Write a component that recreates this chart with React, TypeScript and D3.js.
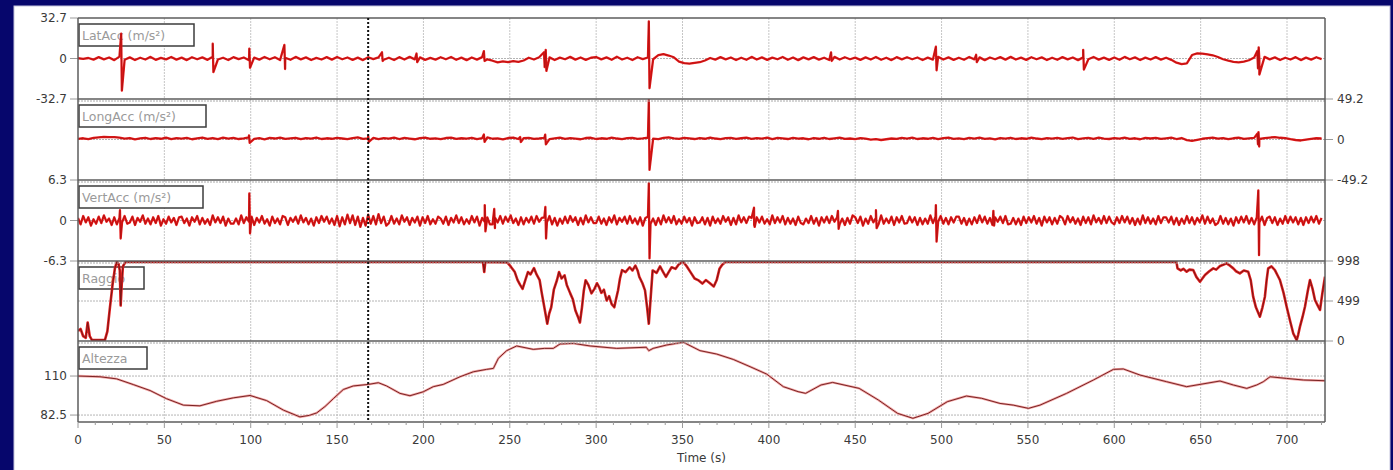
import React from 'react';
import * as d3 from 'd3';

// LatAcc, sampled every 3 s from 0 to 720 s
const latAcc = [
  0.2, -0.3, 0.4, -0.9, 1.1, -0.7, 0.8, -1.3, 1.5, -1.0,
  0.9, -1.2, 0.6, -0.8, 1.3, -1.1, 0.5, -0.7, 1.2, -0.9,
  0.7, -1.3, 1.0, -0.6, 0.9, -1.1, 1.4, -0.8, 0.6, -1.2,
  1.1, -0.5, 0.8, -1.4, 0.7, -0.9, 1.2, -0.6, 1.0, -1.3,
  0.6, -1.0, 1.3, -0.7, 0.9, -1.2, 0.5, -0.8, 1.1, -0.9,
  1.2, -0.6, 0.8, -1.1, 0.7, -1.3, 1.0, -0.5, 0.9, -1.0,
  0.6, -1.2, 1.1, -0.8, 1.3, -0.7, 0.9, -1.1, 0.5, -0.9,
  1.0, -0.6, 1.2, -1.0, 0.7, -1.3, 0.8, -0.9, 1.1, -0.7,
  -1.8, -3.2, -2.4, -3.0, -2.1, -2.8, -1.6, 0.6, -0.8, 1.0,
  -0.4, 0.9, -1.2, 0.7, -0.6, 1.3, -0.9, 0.8, -1.1, 0.6,
  1.2, -0.7, 0.9, -1.0, 1.4, -0.8, 0.6, -1.2, 1.0, -0.5,
  0.8, -0.6, 2.8, 3.6, 2.4, 1.0, -2.6, -3.8, -4.2, -3.5,
  -3.0, -1.6, 0.4, -0.9, 1.1, -0.7, 0.8, -1.2, 0.6, -1.0,
  1.3, -0.8, 0.9, -1.1, 0.7, -0.6, 1.2, -1.0, 0.8, -1.3,
  0.9, -0.7, 1.1, -0.9, 0.6, -1.2, 1.3, -0.8, 1.0, -0.6,
  0.7, -1.1, 0.9, -0.8, 1.2, -1.0, 0.6, -1.3, 1.1, -0.7,
  1.0, -0.6, 0.8, -1.2, 0.7, -0.9, 1.3, -0.8, 0.9, -1.1,
  0.6, -1.0, 1.2, -0.7, 0.9, -1.3, 0.8, -0.6, 1.1, -0.9,
  1.3, -0.8, 0.7, -1.1, 1.0, -0.6, 0.9, -1.2, 0.6, -1.0,
  1.1, -0.7, 0.8, -1.3, 0.9, -0.6, 1.2, -0.9, 0.7, -1.1,
  0.8, -1.0, 1.3, -0.6, 0.9, -1.2, 0.7, -0.8, 1.1, -0.9,
  0.6, -1.1, -3.4, -4.6, -4.0, 2.8, 4.2, 3.9, 3.4, 2.6,
  1.2, -0.6, -1.8, -2.8, -3.2, -2.6, -1.4, 0.8, -1.0, 1.3,
  -0.7, 0.9, -1.2, 0.6, -0.8, 1.1, -1.3, 0.7, -0.9, 1.0,
  -0.5,
];
// [time, high, low]
const latAccSpikes = [
  [25, 20, -26], [78, 12, -11], [99.2, 8, -7.5], [119.5, 11, -8.5], [176, 5, -2],
  [196, 4, -3], [235, 6, -2], [269.8, 5, -7], [270.8, 7, -10], [330.5, 30, -24],
  [436, 5, -2], [496.7, 9.5, -9.5], [520, 3, -3], [582, 7, -9], [682.8, 6, -8], [683.6, 9, -13],
];

// LongAcc, sampled every 3 s
const longAcc = [
  0.8, 1.5, 0.4, 1.9, 2.6, 3.2, 2.8, 3.0, 2.2, 1.0,
  1.8, 0.2, 1.4, 2.1, 0.6, 1.7, 0.9, 2.3, 0.5, 1.6,
  1.1, 2.0, 0.3, 1.5, 2.4, 0.7, 1.8, 0.4, 2.2, 1.0,
  1.9, 0.6, 1.3, 2.5, 0.8, 1.6, 0.2, 1.9, 1.2, 2.3,
  0.7, 1.4, 2.1, 0.5, 1.8, 1.0, 2.4, 0.6, 1.5, 0.9,
  2.0, 1.2, 0.4, 1.7, 2.6, 0.8, 1.3, 2.0, 0.5, 1.6,
  1.0, 2.2, 0.6, 1.9, 1.1, 0.3, 1.7, 2.4, 0.9, 1.4,
  0.5, 1.8, 2.3, 0.7, 1.5, 1.0, 2.1, 0.4, 1.6, 2.5,
  0.9, 1.3, 0.2, 1.8, 2.4, 0.6, 1.5, 2.0, 0.8, 1.2,
  1.9, 0.5, 1.4, 2.2, 0.7, 1.6, 1.1, 0.3, 1.8, 2.1,
  0.6, 1.5, 0.9, 2.3, 1.2, 0.4, 1.7, 2.0, 0.8, 1.4,
  2.2, 1.0, 0.5, 1.9, 2.6, 1.4, 0.7, 2.1, 1.3, 0.6,
  1.8, 0.9, 2.4, 1.2, 0.5, 1.7, 2.0, 0.8, 1.5, 2.3,
  0.7, 1.6, 1.1, 2.2, 0.4, 1.9, 1.3, 0.6, 2.0, 1.0,
  1.5, 0.3, 1.8, 0.9, 2.1, 0.6, 1.4, 2.3, 0.8, 1.2,
  0.4, 1.7, 1.0, -0.2, 0.5, -0.6, 0.3, 1.2, 0.7, 1.9,
  1.1, 2.2, 0.6, 1.5, 0.9, 2.0, 0.4, 1.6, 2.4, 0.8,
  1.3, 0.5, 1.9, 1.1, 2.2, 0.7, 1.4, 0.2, 1.8, 1.0,
  2.1, 0.6, 1.5, 0.9, 2.3, 1.2, 0.4, 1.7, 1.0, 2.0,
  0.8, 1.6, 2.4, 0.5, 1.3, 1.9, 0.7, 2.2, 1.1, 0.6,
  1.7, 1.0, 2.3, 0.8, 1.5, 0.3, 1.9, 1.2, 2.0, 0.7,
  1.4, 2.2, 0.6, 1.8, -0.8, -1.6, -0.4, 0.9, 1.6, 2.4,
  1.0, 1.8, 0.5, 1.5, 2.3, 0.8, 1.3, 1.9, 0.6, 1.7,
  2.4, 2.8, 2.1, 1.6, 0.4, -0.6, -1.2, -0.2, 0.8, 1.5,
  1.2,
];
const longAccSpikes = [
  [99, 5, -4], [168, 4, -3], [235, 6, -3], [256, 3, -3], [270.5, 6, -6],
  [330.5, 48, -37], [682.8, 7, -6], [683.5, 9, -8.5],
];

// VertAcc in tenths of m/s², sampled every 1.5 s
const vertAccTenths = [
  4, -6, 7, -3, 5, -8, 2, -5, 6, -4, 8, -2, 3, -7, 5, -6, 4, -3, 7, -5,
  -3, 6, -7, 4, -2, 8, -5, 3, -6, 5, -4, 7, -8, 2, -5, 6, -3, 4, -7, 5,
  6, -4, 3, -8, 5, -2, 7, -6, 4, -5, 2, -7, 8, -3, 5, -4, 6, -8, 3, -5,
  -5, 3, -6, 8, -4, 5, -2, 6, -7, 4, -3, 7, -5, 2, -8, 6, -4, 3, -6, 7,
  5, -7, 4, -2, 6, -5, 8, -3, 4, -6, 3, -8, 5, -4, 7, -2, 6, -5, 3, -7,
  7, -9, 5, -6, 9, -4, 8, -7, 6, -10, 4, -8, 9, -5, 7, -6, 10, -4, 6, -8,
  -4, 7, -5, 3, -6, 8, -2, 5, -7, 4, -3, 6, -8, 5, -4, 7, -6, 2, -5, 6,
  3, -5, 6, -7, 4, -3, 8, -4, 5, -6, 2, -5, 7, -3, 6, -8, 4, -2, 5, -6,
  -6, 4, -3, 7, -5, 6, -2, 8, -4, 3, -7, 5, -6, 4, -3, 6, -5, 7, -2, 4,
  5, -3, 7, -6, 4, -8, 3, -5, 6, -4, 7, -2, 5, -7, 4, -6, 8, -3, 5, -4,
  -4, 6, -5, 3, -7, 5, -3, 8, -6, 4, -2, 6, -5, 7, -4, 3, -6, 5, -8, 4,
  6, -5, 3, -7, 4, -6, 8, -3, 5, -4, 7, -6, 2, -5, 6, -3, 4, -8, 5, -4,
  -3, 5, -6, 4, -8, 6, -4, 3, -5, 7, -2, 5, -7, 4, -6, 8, -3, 5, -4, 6,
  4, -7, 5, -3, 6, -5, 2, -6, 8, -4, 5, -3, 7, -6, 4, -5, 3, -7, 6, -4,
  -6, 3, -4, 7, -5, 4, -8, 5, -3, 6, -4, 7, -2, 5, -6, 3, -7, 4, -5, 8,
  5, -4, 6, -8, 3, -5, 7, -3, 4, -6, 8, -5, 3, -4, 6, -7, 5, -3, 7, -5,
  -4, 6, -3, 5, -7, 4, -6, 3, -5, 8, -4, 6, -2, 7, -5, 4, -6, 5, -3, 6,
  6, -5, 4, -7, 3, -6, 5, -4, 8, -3, 6, -5, 4, -7, 5, -2, 6, -4, 7, -6,
  -5, 4, -6, 3, -7, 6, -4, 5, -3, 7, -5, 4, -8, 6, -3, 5, -6, 4, -5, 7,
  4, -6, 7, -3, 5, -5, 3, -7, 6, -4, 5, -6, 8, -3, 4, -5, 7, -4, 6, -3,
  -6, 5, -4, 7, -3, 6, -5, 4, -7, 3, -6, 8, -4, 5, -5, 3, -6, 7, -4, 5,
  5, -3, 6, -6, 4, -7, 3, -5, 7, -4, 5, -6, 4, -3, 8, -5, 6, -4, 3, -7,
  -4, 7, -5, 4, -6, 3, -8, 5, -4, 6, -3, 7, -5, 4, -6, 5, -3, 6, -7, 4,
  6, -4, 5, -7, 3, -5, 7, -4, 6, -3, 5, -6, 4, -7, 5, -4, 6, -3, 7, -5,
  4,
];
const vertAccSpikes = [
  [24.3, 1.6, -2.8], [99.2, 4.2, -2], [235.5, 2.4, -1.7], [241, 1.8, -1.2],
  [270.6, 2.1, -2.8], [330.5, 5.8, -5.9], [391.4, 2, -1], [440, 1.5, -1.3],
  [462, 1.6, -1.2], [496.7, 2.4, -3.3], [530, 1.5, -0.8], [683.4, 4.7, -5.4],
];

// Raggio: [time, value]
const raggio = [
  [0, 126], [1.5, 150], [3, 60], [4.5, 40], [5.6, 231], [6.8, 60], [8, 13], [12, 13], [15.6, 13],
  [17, 120], [18.5, 420], [20, 700], [21.4, 910], [22.5, 990], [23.5, 960], [24.2, 880], [24.7, 442],
  [25.3, 700], [26, 930], [27.4, 985],
  [234.5, 985], [235.2, 860], [235.8, 985],
  [248.5, 980], [250.5, 930], [252.9, 860], [254.5, 760], [256, 700], [257.4, 650], [259, 760],
  [260.5, 860], [262, 830], [264, 910], [265.5, 830], [267.3, 758], [268.5, 600], [270, 420],
  [271.7, 215], [272.8, 340], [274, 421], [275.5, 640], [277.3, 758], [278.5, 860], [280, 780],
  [281.7, 820], [283, 700], [285, 594], [286.5, 520], [288, 380], [289.5, 300], [290.6, 231],
  [291.8, 420], [292.8, 620], [293.9, 758], [295.5, 700], [297.3, 594], [299, 650], [300.5, 720],
  [301.7, 673], [303, 600], [304.5, 640], [306.1, 505], [307.5, 560], [309, 460], [310.5, 421],
  [311.5, 520], [312.7, 633], [313.8, 780], [315, 884], [317, 860], [319.4, 920], [321, 880],
  [322.7, 940], [324, 880], [325, 800], [326.8, 720], [328.3, 632], [329.5, 420], [330.5, 215],
  [331.5, 520], [332.7, 880], [335, 850], [337, 930], [338.8, 860], [340.4, 800], [342, 860],
  [343.7, 920], [346, 900], [348, 960], [350.4, 990], [352.5, 930], [354.9, 850], [357, 780],
  [359, 760], [361.5, 716], [363.5, 760], [365.9, 720], [368.1, 680], [369.8, 760], [371.4, 900],
  [373, 950], [374.8, 985],
  [636, 985], [636.6, 906], [638.5, 880], [640, 900], [641.9, 865], [643.5, 890], [645.7, 885],
  [647.5, 800], [649.6, 740], [651, 780], [652.5, 823], [655, 870], [657.3, 906], [659, 890],
  [661.2, 935], [663, 950], [665, 969], [667, 940], [668.9, 906], [670.5, 870], [672.7, 844],
  [675, 880], [677.5, 865], [679, 760], [680.4, 553], [682, 420], [684.3, 303], [685.8, 420],
  [687.2, 553], [688.2, 760], [689.1, 906], [691, 930], [693, 885], [694.5, 820], [695.9, 761],
  [698, 600], [699.8, 428], [701.8, 250], [703.6, 96], [705.6, 12], [706.5, 80], [707.5, 179],
  [709, 300], [710.4, 428], [712, 620], [713.3, 761], [714.8, 650], [716.2, 511], [717.6, 450],
  [719.1, 387], [720.5, 600], [722, 803],
];

// Altezza: [time, value]
const altezza = [
  [0, 110], [12.7, 109.5], [22.4, 108], [32, 104], [41.7, 99.8], [51.3, 94], [61, 89.5], [70.6, 89],
  [80.3, 92.2], [89.9, 94.6], [99.6, 96.3], [109.2, 92.7], [118.9, 86], [128.5, 81.2], [134, 82.3],
  [138.2, 84], [143, 88.5], [147.8, 94], [153.6, 100.5], [159.4, 103], [168.1, 104.1], [173.9, 105.3],
  [178.7, 103], [186.4, 97.8], [192.2, 96.1], [199.9, 98.9], [205.7, 102.5], [211.5, 104.1],
  [221.2, 109.5], [228.9, 113], [236.6, 114.7], [240.5, 115.4], [243.4, 122.5], [248.2, 127.9],
  [254, 131.2], [263.6, 128.8], [270, 129.5], [275.2, 129.5], [279.1, 132.6], [286.8, 133],
  [296.5, 131.2], [311.9, 129.5], [329, 130.3], [330.5, 127.9], [333, 129.5], [340.9, 131.9],
  [350.5, 133.8], [360.1, 127.9], [369.8, 125.5], [379.4, 121.7], [389.1, 116.6], [398.7, 111.4],
  [408.4, 102.5], [416.9, 99], [421.3, 97.8], [430.2, 103.7], [436.9, 105.5], [452.3, 101.3],
  [463.4, 93.1], [474.5, 83.7], [483.4, 80.2], [492.2, 83.7], [503.3, 91.9], [514.4, 95.9],
  [523.2, 94.3], [533.8, 90.7], [541.5, 89.5], [550.3, 87.2], [557, 89.5], [572.4, 97.8],
  [587.9, 107.2], [599.5, 114.7], [605.2, 115], [614.9, 110.7], [630.3, 106], [641.9, 102.5],
  [661.2, 106.5], [668.9, 103.7], [676.7, 101.3], [682.5, 103.7], [686.3, 106], [690.2, 109.5],
  [699.8, 108.3], [709.5, 107.2], [722, 106.7],
];

const timeTicks = [0, 50, 100, 150, 200, 250, 300, 350, 400, 450, 500, 550, 600, 650, 700];
const cursorTime = 168;

function withSpikes(values: number[], step: number, spikes: number[][]): [number, number][] {
  const pts: [number, number][] = values.map((v, i) => [i * step, v]);
  spikes.forEach(([t, hi, lo]) => {
    pts.push([t, hi], [t + 0.4, lo]);
  });
  return pts.sort((a, b) => a[0] - b[0]);
}

const W = 1393;
const H = 470;
const left = 78;
const right = 1325;
const tops = [18, 99, 180, 261, 341, 422];
const font = 'DejaVu Sans, Verdana, sans-serif';

const panels = [
  { title: 'LatAcc (m/s²)', boxW: 115, domain: [-32.7, 32.7], ticks: [32.7, 0, -32.7], grid: [0], side: 'left', data: withSpikes(latAcc, 3, latAccSpikes), kind: 'acc' },
  { title: 'LongAcc (m/s²)', boxW: 127, domain: [-49.2, 49.2], ticks: [49.2, 0, -49.2], grid: [0], side: 'right', data: withSpikes(longAcc, 3, longAccSpikes), kind: 'acc' },
  { title: 'VertAcc (m/s²)', boxW: 124, domain: [-6.3, 6.3], ticks: [6.3, 0, -6.3], grid: [0], side: 'left', data: withSpikes(vertAccTenths.map((v) => v / 10), 1.5, vertAccSpikes), kind: 'acc' },
  { title: 'Raggio', boxW: 65, domain: [0, 998], ticks: [998, 499, 0], grid: [499], side: 'right', data: raggio as [number, number][], kind: 'raggio' },
  { title: 'Altezza', boxW: 68, domain: [77.6, 134.7], ticks: [110, 82.5], grid: [110, 82.5], side: 'left', data: altezza as [number, number][], kind: 'alt' },
];

const fmt = (v: number) => (Number.isInteger(v) ? String(v) : v.toFixed(1));

export default function App() {
  const x = d3.scaleLinear().domain([0, 722]).range([left, right]);
  const minorTicks = d3.range(0, 721, 10);

  return (
    <svg width={W} height={H} style={{ position: 'absolute', left: 0, top: 0, display: 'block' }}>
      <rect x={0} y={0} width={W} height={H} fill="#06066c" />
      <rect x={14} y={6} width={1376} height={H} fill="#ffffff" stroke="#c4c4dc" strokeWidth={1} />
      <defs>
        {panels.map((p, i) => (
          <clipPath id={`clip${i}`} key={i}>
            <rect x={left} y={tops[i]} width={right - left} height={tops[i + 1] - tops[i]} />
          </clipPath>
        ))}
      </defs>

      {/* vertical grid */}
      {timeTicks.slice(1).map((t) => (
        <line key={t} x1={x(t)} x2={x(t)} y1={tops[0]} y2={tops[5]} stroke="#c6c6c6" strokeWidth={1} strokeDasharray="2,1" />
      ))}

      {panels.map((p, i) => {
        const y = d3.scaleLinear().domain(p.domain).range([tops[i + 1], tops[i]]);
        const line = d3.line<[number, number]>().x((d) => x(d[0])).y((d) => y(d[1]));
        const path = line(p.data) || '';
        return (
          <g key={p.title}>
            {p.grid.map((g) => (
              <line key={g} x1={left} x2={right} y1={y(g)} y2={y(g)} stroke="#b4b4b4" strokeWidth={1} strokeDasharray="2,1" />
            ))}
            <rect x={left + 1} y={tops[i] + 6} width={p.boxW} height={22} fill="#ffffff" stroke="#3c3c3c" strokeWidth={1.5} />
            <text x={left + 4} y={tops[i] + 22} fontFamily={font} fontSize={12.5} fill="#9a9a9a">{p.title}</text>
            <g clipPath={`url(#clip${i})`}>
              {p.kind === 'acc' && (
                <>
                  <path d={path} fill="none" stroke="#e61a1a" strokeWidth={2.3} strokeLinejoin="round" />
                  <path d={path} fill="none" stroke="#a81010" strokeWidth={0.7} />
                </>
              )}
              {p.kind === 'raggio' && (
                <>
                  <path d={path} fill="none" stroke="#e42020" strokeWidth={2.6} strokeLinejoin="round" />
                  <path d={path} fill="none" stroke="#6e1414" strokeWidth={0.9} />
                </>
              )}
              {p.kind === 'alt' && (
                <>
                  <path d={path} fill="none" stroke="#f2a6a6" strokeWidth={2.4} />
                  <path d={path} fill="none" stroke="#7a2424" strokeWidth={1} />
                </>
              )}
            </g>
            {p.ticks.map((t) => {
              const ty = y(t);
              return p.side === 'left' ? (
                <g key={t}>
                  <line x1={70} x2={left} y1={ty} y2={ty} stroke="#9a9a9a" strokeWidth={1} />
                  <text x={67} y={ty + 4} textAnchor="end" fontFamily={font} fontSize={12} fill="#3a3a3a">{fmt(t)}</text>
                </g>
              ) : (
                <g key={t}>
                  <line x1={right} x2={right + 8} y1={ty} y2={ty} stroke="#9a9a9a" strokeWidth={1} />
                  <text x={1337} y={ty + 4} textAnchor="start" fontFamily={font} fontSize={12} fill="#3a3a3a">{fmt(t)}</text>
                </g>
              );
            })}
          </g>
        );
      })}

      {/* panel separators */}
      {tops.map((ty, i) => (
        <g key={i}>
          <line x1={left} x2={right} y1={ty} y2={ty} stroke="#5c5c5c" strokeWidth={1.5} />
          {i > 0 && i < 5 && (
            <line x1={left} x2={right} y1={ty + 2} y2={ty + 2} stroke="#a8a8a8" strokeWidth={1} strokeDasharray="2,1" />
          )}
        </g>
      ))}
      <line x1={left} x2={left} y1={tops[0]} y2={tops[5]} stroke="#5c5c5c" strokeWidth={1.5} />
      <line x1={right} x2={right} y1={tops[0]} y2={tops[5]} stroke="#5c5c5c" strokeWidth={1.5} />

      {/* cursor */}
      <line x1={x(cursorTime)} x2={x(cursorTime)} y1={tops[0]} y2={tops[5]} stroke="#111111" strokeWidth={2} strokeDasharray="2,2" />

      {/* time axis */}
      {minorTicks.map((t) => (
        <line key={t} x1={x(t)} x2={x(t)} y1={tops[5]} y2={tops[5] + (t % 50 === 0 ? 6 : 3)} stroke="#9a9a9a" strokeWidth={1} />
      ))}
      {timeTicks.map((t) => (
        <text key={t} x={x(t)} y={444} textAnchor="middle" fontFamily={font} fontSize={12} fill="#3a3a3a">{t}</text>
      ))}
      <text x={(left + right) / 2} y={462} textAnchor="middle" fontFamily={font} fontSize={12} fill="#3a3a3a">Time (s)</text>
    </svg>
  );
}
